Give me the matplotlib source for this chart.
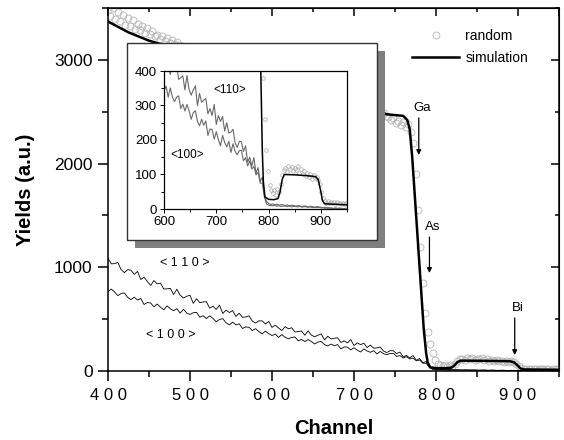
import numpy as np
import matplotlib
matplotlib.use("Agg")
import matplotlib.pyplot as plt
from matplotlib.patches import Rectangle
from matplotlib.ticker import MultipleLocator

plt.rcParams['font.family'] = ['Liberation Sans', 'DejaVu Sans']

# ---- channeled spectra (channel grid, step 4) ----
channels = np.arange(400, 950, 4)

yield_110 = [
    1088, 1033, 1035, 1047, 977, 949, 977, 972, 932, 960,
    882, 905, 863, 825, 872, 840, 848, 791, 792, 797,
    738, 788, 731, 704, 721, 730, 652, 697, 658, 666,
    668, 606, 625, 594, 635, 555, 587, 564, 582, 526,
    557, 517, 521, 532, 481, 462, 484, 483, 454, 478,
    420, 442, 415, 390, 428, 407, 417, 376, 380, 386,
    345, 387, 346, 330, 345, 357, 300, 335, 309, 316,
    320, 276, 291, 271, 303, 245, 271, 254, 268, 226,
    250, 220, 223, 231, 192, 178, 196, 195, 167, 183,
    136, 150, 125, 149, 103, 120, 80, 92, 40, 22,
    16, 13, 15, 12, 14, 11, 13, 12, 10, 12,
    9, 11, 10, 8, 10, 9, 7, 9, 8, 6,
    8, 7, 5, 7, 6, 5, 4, 5, 3, 4,
    3, 2, 3, 2, 3, 2, 1, 2,
]

yield_100 = [
    766, 790, 762, 727, 747, 753, 710, 688, 712, 684,
    699, 641, 661, 655, 619, 646, 615, 590, 628, 600,
    581, 601, 558, 595, 559, 545, 562, 566, 518, 533,
    506, 532, 507, 474, 497, 505, 464, 445, 471, 445,
    455, 410, 425, 421, 390, 408, 380, 358, 384, 360,
    342, 356, 324, 351, 325, 311, 324, 328, 291, 304,
    284, 303, 285, 260, 279, 285, 254, 241, 260, 243,
    255, 213, 232, 230, 203, 224, 201, 183, 213, 193,
    180, 196, 164, 189, 167, 157, 169, 170, 140, 149,
    125, 139, 116, 124, 99, 106, 75, 75, 35, 15,
    11, 10, 9, 11, 8, 10, 7, 9, 8, 7,
    9, 6, 8, 7, 6, 8, 5, 7, 6, 5,
    6, 4, 5, 4, 5, 3, 4, 2, 3, 2,
    2, 1, 2, 1, 1, 1, 0, 1,
]

# ---- random spectrum (channel grid, step 3) ----
random_channels = np.arange(400, 950, 3)
yield_random = [
    3480, 3420, 3500, 3390, 3460, 3370, 3430, 3340, 3400, 3330,
    3380, 3300, 3350, 3290, 3330, 3260, 3310, 3250, 3280, 3230,
    3240, 3200, 3230, 3180, 3210, 3160, 3190, 3150, 3170, 3140,
    3130, 3110, 3120, 3090, 3100, 3080, 3090, 3060, 3075, 3050,
    3060, 3040, 3050, 3020, 3040, 3010, 3020, 2990, 3010, 2985,
    2990, 2970, 2985, 2955, 2970, 2945, 2950, 2930, 2940, 2915,
    2925, 2905, 2915, 2890, 2900, 2880, 2885, 2865, 2870, 2850,
    2860, 2835, 2845, 2820, 2830, 2805, 2815, 2790, 2800, 2775,
    2785, 2760, 2770, 2745, 2755, 2730, 2740, 2715, 2725, 2700,
    2710, 2685, 2695, 2670, 2680, 2655, 2660, 2640, 2645, 2620,
    2630, 2605, 2615, 2590, 2600, 2575, 2580, 2555, 2565, 2540,
    2530, 2500, 2490, 2460, 2450, 2420, 2440, 2390, 2410, 2370,
    2400, 2350, 2380, 2300, 2200, 1900, 1550, 1200, 850, 560,
    380, 260, 170, 110, 70, 55, 45, 55, 40, 58,
    50, 72, 98, 112, 120, 108, 125, 115, 122, 110,
    118, 112, 124, 105, 115, 100, 110, 96, 105, 92,
    100, 88, 98, 90, 94, 85, 72, 50, 32, 24,
    18, 22, 16, 20, 17, 21, 15, 19, 16, 18,
    14, 17, 15, 16,
]

# ---- simulated random spectrum ----
sim_channels = [400, 425, 450, 500, 550, 600, 650, 700, 740, 760, 765, 768,
                771, 775, 780, 785, 788, 790, 793, 800, 810, 818, 822, 826,
                830, 850, 870, 890, 895, 900, 903, 907, 950]
sim_yield = [3370, 3265, 3185, 3070, 2955, 2840, 2720, 2590, 2475, 2460, 2420, 2330,
             2060, 1590, 1000, 410, 170, 80, 35, 28, 27, 30, 50, 85,
             100, 99, 97, 94, 85, 50, 25, 15, 12]

x_ticks = [400, 500, 600, 700, 800, 900]
y_ticks = [0, 1000, 2000, 3000]
inset_x_ticks = [600, 700, 800, 900]
inset_y_ticks = [0, 100, 200, 300, 400]

# element edges: label, channel, label height, arrow start, arrow tip
edges = [("Ga", 783, 2536, 2440, 2083),
         ("As", 796, 1390, 1292, 945),
         ("Bi", 900, 607, 511, 154)]

W, H = 564, 440
fig = plt.figure(figsize=(W / 100, H / 100), dpi=100)

# ---- main axes ----
ax = fig.add_axes([108 / W, (H - 371) / H, 451 / W, 363 / H])
ax.plot(random_channels, yield_random, 'o', ms=5.0, mfc='none', mec='#b4b4b4', mew=0.6,
        label='random', zorder=1)
ax.plot(channels, yield_110, '-', color='k', lw=0.6, zorder=2)
ax.plot(channels, yield_100, '-', color='k', lw=0.6, zorder=2)
ax.plot(sim_channels, sim_yield, '-', color='k', lw=1.8, label='simulation', zorder=3)

ax.set_xlim(400, 950)
ax.set_ylim(0, 3500)
ax.set_xticks(x_ticks, labels=[' '.join(str(t)) for t in x_ticks])
ax.set_yticks(y_ticks)
ax.xaxis.set_minor_locator(MultipleLocator(50))
ax.yaxis.set_minor_locator(MultipleLocator(500))
ax.tick_params(axis='both', which='major', labelsize=12, width=1.1, length=7, direction='out')
ax.tick_params(axis='y', which='major', labelsize=12.5)
ax.tick_params(axis='both', which='minor', width=1.1, length=4, direction='out')
ax.tick_params(axis='x', pad=5)
ax.tick_params(axis='y', pad=4)
for s in ax.spines.values():
    s.set_linewidth(1.1)

# inward ticks on top and right
secx = ax.secondary_xaxis('top')
secx.set_xticks(x_ticks + [950])
secx.xaxis.set_minor_locator(MultipleLocator(50))
secx.tick_params(which='major', direction='in', length=6, width=1.1, labeltop=False)
secx.tick_params(which='minor', direction='in', length=3, width=1.1)
secy = ax.secondary_yaxis('right')
secy.set_yticks(y_ticks)
secy.yaxis.set_minor_locator(MultipleLocator(500))
secy.tick_params(which='major', direction='in', length=6, width=1.1, labelright=False)
secy.tick_params(which='minor', direction='in', length=3, width=1.1)

ax.set_xlabel('Channel', fontsize=14.5, fontweight='bold', labelpad=12)
ax.set_ylabel('Yields (a.u.)', fontsize=14.5, fontweight='bold', labelpad=14)

ax.text(494, 1040, ' '.join('<110>'), fontsize=9, ha='center', va='center')
ax.text(476, 347, ' '.join('<100>'), fontsize=9, ha='center', va='center')

for name, xc, yt, y0, y1 in edges:
    ax.text(xc, yt, name, fontsize=9.5, ha='center', va='center')
    ax.annotate('', xy=(xc - 4, y1), xytext=(xc - 4, y0),
                arrowprops=dict(arrowstyle='-|>', color='k', lw=0.9,
                                mutation_scale=7, shrinkA=0, shrinkB=0))

leg = ax.legend(loc='upper left', bbox_to_anchor=(405 / W, (H - 22) / H),
                bbox_transform=fig.transFigure, frameon=False, fontsize=10,
                handlelength=3.4, handletextpad=0.45, labelspacing=0.6,
                borderpad=0, numpoints=1)

# ---- inset frame with drop shadow ----
fig.patches.append(Rectangle((135 / W, (H - 248) / H), 250 / W, 197 / H,
                             transform=fig.transFigure, facecolor='#7f7f7f',
                             edgecolor='none', zorder=1))
fig.patches.append(Rectangle((127 / W, (H - 240) / H), 250 / W, 197 / H,
                             transform=fig.transFigure, facecolor='white',
                             edgecolor='#333333', lw=1.0, zorder=1.1))

# ---- inset axes ----
ins = fig.add_axes([164 / W, (H - 209) / H, 183 / W, 138 / H], zorder=2)
ins.plot(random_channels, yield_random, 'o', ms=2.6, mfc='none', mec='#a8a8a8', mew=0.5, zorder=1)
ins.plot(channels, yield_110, '-', color='#6a6a6a', lw=0.8, zorder=2)
ins.plot(channels, yield_100, '-', color='#6a6a6a', lw=0.8, zorder=2)
ins.plot(sim_channels, sim_yield, '-', color='k', lw=1.1, zorder=3)
ins.set_xlim(600, 950)
ins.set_ylim(0, 400)
ins.set_xticks(inset_x_ticks)
ins.set_yticks(inset_y_ticks)
ins.xaxis.set_minor_locator(MultipleLocator(50))
ins.yaxis.set_minor_locator(MultipleLocator(50))
ins.tick_params(which='major', labelsize=9.5, length=3, width=0.7, pad=2, direction='out')
ins.tick_params(which='minor', length=2, width=0.7, direction='out')
for s in ins.spines.values():
    s.set_linewidth(0.9)
ins.text(726, 345, '<110>', fontsize=8.5, ha='center', va='center')
ins.text(644, 157, '<100>', fontsize=8.5, ha='center', va='center')

fig.savefig('out.png', dpi=100)
